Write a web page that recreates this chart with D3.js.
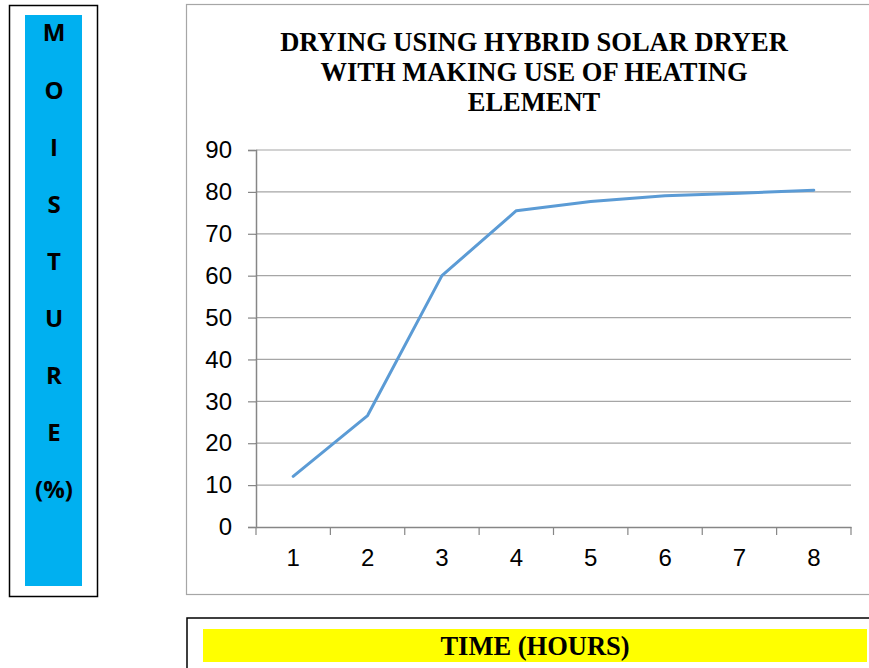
<!DOCTYPE html>
<html>
<head>
<meta charset="utf-8">
<script src="https://cdn.jsdelivr.net/npm/d3@7"></script>
<style>
  body { margin: 0; background: #fff; }
</style>
</head>
<body>
<div id="chart"></div>
<script>
// data
const hours = [1, 2, 3, 4, 5, 6, 7, 8];
const moisture = [12.1, 26.6, 60.0, 75.5, 77.7, 79.1, 79.7, 80.4];
const yTicks = [0, 10, 20, 30, 40, 50, 60, 70, 80, 90];
const titleLines = ["DRYING USING HYBRID SOLAR DRYER", "WITH MAKING USE OF HEATING", "ELEMENT"];
const sideLetters = ["M", "O", "I", "S", "T", "U", "R", "E", "(%)"];
const xLabel = "TIME (HOURS)";

const width = 869;
const height = 668;
const plot = { left: 256, right: 851, top: 150, bottom: 527 };

const svg = d3.select("#chart")
  .append("svg")
  .attr("width", width)
  .attr("height", height);

// left "MOISTURE" box
svg.append("rect")
  .attr("x", 9.5).attr("y", 5.5)
  .attr("width", 88).attr("height", 591)
  .attr("fill", "#fff").attr("stroke", "#000").attr("stroke-width", 1.5);
svg.append("rect")
  .attr("x", 25).attr("y", 15)
  .attr("width", 57).attr("height", 571)
  .attr("fill", "#00b0f0");
svg.selectAll(".side")
  .data(sideLetters)
  .enter()
  .append("text")
  .attr("x", 54)
  .attr("y", (d, i) => 33 + i * 57.1)
  .attr("dy", "0.35em")
  .attr("text-anchor", "middle")
  .style("font-family", "'Open Sans', 'Liberation Sans', sans-serif")
  .style("font-weight", "bold")
  .style("font-size", "24px")
  .text(d => d);

// chart frame
svg.append("rect")
  .attr("x", 186.5).attr("y", 4.5)
  .attr("width", 700).attr("height", 590)
  .attr("fill", "#fff").attr("stroke", "#a6a6a6").attr("stroke-width", 1.2);

// title
svg.append("g").selectAll("text")
  .data(titleLines)
  .enter()
  .append("text")
  .attr("x", 534)
  .attr("y", (d, i) => 51 + i * 30)
  .attr("text-anchor", "middle")
  .style("font-family", "'Liberation Serif', 'Times New Roman', serif")
  .style("font-weight", "bold")
  .style("font-size", "26.5px")
  .text(d => d);

const x = d3.scaleBand()
  .domain(hours)
  .range([plot.left, plot.right]);

const y = d3.scaleLinear()
  .domain([0, 90])
  .range([plot.bottom, plot.top]);

// gridlines
svg.append("g")
  .selectAll("line")
  .data(yTicks.slice(1))
  .enter()
  .append("line")
  .attr("x1", plot.left).attr("x2", plot.right)
  .attr("y1", d => y(d)).attr("y2", d => y(d))
  .attr("stroke", "#a6a6a6").attr("stroke-width", 1.2);

const tickFont = "'Liberation Sans Narrow', 'Liberation Sans', sans-serif";

// Y axis
const yAxis = svg.append("g")
  .attr("transform", `translate(${plot.left},0)`)
  .call(d3.axisLeft(y).tickValues(yTicks).tickSize(8).tickPadding(16));
yAxis.select(".domain").attr("stroke", "#868686").attr("stroke-width", 1.5);
yAxis.selectAll(".tick line").attr("stroke", "#868686").attr("stroke-width", 1.2);
yAxis.selectAll("text")
  .style("font-family", tickFont)
  .style("font-size", "24px")
  .attr("fill", "#000");

// X Axis
const xAxis = svg.append("g")
  .attr("transform", `translate(0,${plot.bottom})`)
  .call(d3.axisBottom(x).tickSize(0).tickPadding(22));
xAxis.select(".domain").attr("stroke", "#868686").attr("stroke-width", 1.5);
xAxis.selectAll("text")
  .style("font-family", tickFont)
  .style("font-size", "24px")
  .attr("fill", "#000");
// category boundary ticks
const bounds = hours.map(h => x(h)).concat([plot.right]);
svg.append("g")
  .selectAll("line")
  .data(bounds)
  .enter()
  .append("line")
  .attr("x1", d => d).attr("x2", d => d)
  .attr("y1", plot.bottom).attr("y2", plot.bottom + 8)
  .attr("stroke", "#868686").attr("stroke-width", 1.2);

// the series
const line = d3.line()
  .x((d, i) => x(hours[i]) + x.bandwidth() / 2)
  .y(d => y(d));
svg.append("path")
  .datum(moisture)
  .attr("d", line)
  .attr("fill", "none")
  .attr("stroke", "#5b9bd5")
  .attr("stroke-width", 3)
  .attr("stroke-linejoin", "round")
  .attr("stroke-linecap", "round");

// bottom "TIME" box
svg.append("rect")
  .attr("x", 187).attr("y", 618)
  .attr("width", 700).attr("height", 60)
  .attr("fill", "#fff").attr("stroke", "#000").attr("stroke-width", 1.5);
svg.append("rect")
  .attr("x", 203).attr("y", 629)
  .attr("width", 664).attr("height", 33)
  .attr("fill", "#ffff00");
svg.append("text")
  .attr("x", 535).attr("y", 655)
  .attr("text-anchor", "middle")
  .style("font-family", "'Liberation Serif', 'Times New Roman', serif")
  .style("font-weight", "bold")
  .style("font-size", "26.5px")
  .text(xLabel);
</script>
</body>
</html>
